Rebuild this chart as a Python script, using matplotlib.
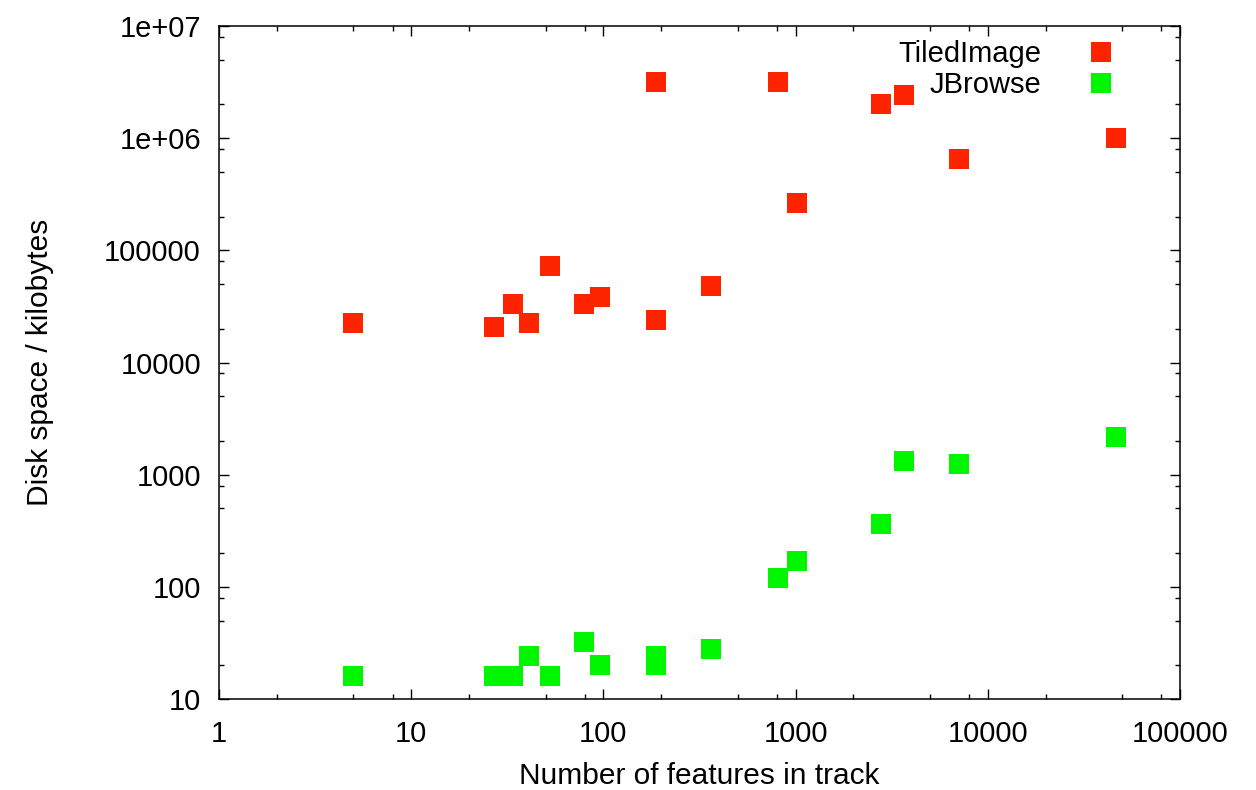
import math
import matplotlib
matplotlib.use("Agg")
import matplotlib.pyplot as plt
from matplotlib.ticker import LogLocator, NullFormatter, FuncFormatter

plt.rcParams['font.family'] = ['Liberation Sans', 'DejaVu Sans']

# number of features per track (same tracks for both series)
features = [5, 27, 34, 41, 53, 79, 96, 187, 187, 365, 806, 1012, 2773, 3650, 7063, 46400]

# disk space in kilobytes
tiled_image = [22400, 20700, 33100, 22400, 72300, 33100, 38300, 3150000, 23900,
               48000, 3150000, 264000, 2010000, 2420000, 650000, 1000000]
jbrowse = [16, 16, 16, 24, 16, 32, 20, 24, 20, 28, 120, 170, 363, 1321, 1243, 2163]

red = '#ff2400'
green = '#00f500'
fs = 21

fig = plt.figure(figsize=(12.56, 7.90), dpi=100)
ax = fig.add_axes([219 / 1256, 1 - 699 / 790, 961 / 1256, 673 / 790])

ax.plot(features, tiled_image, 's', color=red, markersize=15, markeredgewidth=0,
        label='TiledImage', clip_on=False)
ax.plot(features, jbrowse, 's', color=green, markersize=15, markeredgewidth=0,
        label='JBrowse', clip_on=False)

ax.set_xscale('log')
ax.set_yscale('log')
ax.set_xlim(1, 1e5)
ax.set_ylim(10, 1e7)

# gnuplot style ticks: majors at decades, minors at 2, 5, 8
ax.xaxis.set_major_locator(LogLocator(base=10, numticks=10))
ax.yaxis.set_major_locator(LogLocator(base=10, numticks=10))
ax.xaxis.set_minor_locator(LogLocator(base=10, subs=(2, 5, 8), numticks=10))
ax.yaxis.set_minor_locator(LogLocator(base=10, subs=(2, 5, 8), numticks=10))
ax.xaxis.set_minor_formatter(NullFormatter())
ax.yaxis.set_minor_formatter(NullFormatter())


def ylab(v, pos):
    if v >= 1e6:
        return '1e+%02d' % round(math.log10(v))
    return '%d' % round(v)


ax.xaxis.set_major_formatter(FuncFormatter(lambda v, p: '%d' % round(v)))
ax.yaxis.set_major_formatter(FuncFormatter(ylab))

ax.tick_params(which='both', direction='in', top=True, right=True, width=1.0,
               labelsize=fs, colors='black')
ax.tick_params(which='major', length=7.5)
ax.tick_params(which='minor', length=3.8)
ax.tick_params(axis='x', which='major', pad=15)
ax.tick_params(axis='y', which='major', pad=13)
for s in ax.spines.values():
    s.set_linewidth(1.1)

ax.set_xlabel('Number of features in track', fontsize=21.5, labelpad=10)
ax.set_ylabel('Disk space / kilobytes', fontsize=21.5, labelpad=36)

ax.legend(loc='upper right', bbox_to_anchor=(1121 / 1256, 1 - 40 / 790),
          bbox_transform=fig.transFigure, frameon=False, markerfirst=False,
          fontsize=fs, handlelength=1.4, handletextpad=1.32, labelspacing=0.1,
          borderpad=0, borderaxespad=0)

fig.savefig('out.png', dpi=100)
